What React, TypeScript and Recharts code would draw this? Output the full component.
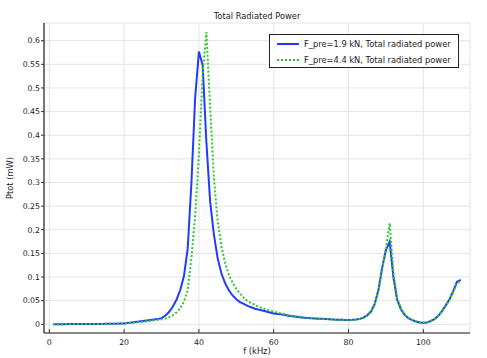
import React from 'react'
import { LineChart, Line, XAxis, YAxis, CartesianGrid } from 'recharts'

// frequency sweep, 1 kHz steps
const freqKHz = Array.from({ length: 110 }, (_, i) => i + 1)

// Ptot (mW), F_pre = 1.9 kN
const ptotPre19 = [
  0.0003, 0.0003, 0.0003, 0.0003, 0.0004, 0.0004, 0.0004, 0.0005, 0.0005, 0.0006,
  0.0006, 0.0007, 0.0008, 0.0009, 0.001, 0.0011, 0.0012, 0.0014, 0.0016, 0.0019,
  0.003, 0.004, 0.005, 0.006, 0.007, 0.008, 0.009, 0.01, 0.011, 0.013,
  0.018, 0.026, 0.037, 0.052, 0.072, 0.102, 0.16, 0.3, 0.48, 0.577,
  0.548, 0.385, 0.26, 0.19, 0.14, 0.108, 0.087, 0.072, 0.061, 0.053,
  0.047, 0.043, 0.039, 0.036, 0.033, 0.031, 0.029, 0.027, 0.025, 0.023,
  0.022, 0.021, 0.0195, 0.018, 0.017, 0.016, 0.015, 0.014, 0.0135, 0.013,
  0.0125, 0.012, 0.0115, 0.011, 0.0105, 0.01, 0.0097, 0.0095, 0.0093, 0.0092,
  0.0095, 0.01, 0.0115, 0.014, 0.019, 0.027, 0.043, 0.073, 0.12, 0.157,
  0.175, 0.1, 0.052, 0.032, 0.02, 0.013, 0.009, 0.006, 0.004, 0.0035,
  0.004, 0.007, 0.011, 0.018, 0.028, 0.04, 0.053, 0.07, 0.09, 0.094,
]

// Ptot (mW), F_pre = 4.4 kN
const ptotPre44 = [
  0.0003, 0.0003, 0.0003, 0.0003, 0.0003, 0.0004, 0.0004, 0.0004, 0.0005, 0.0005,
  0.0006, 0.0006, 0.0007, 0.0008, 0.0009, 0.001, 0.0011, 0.0012, 0.0014, 0.0017,
  0.0025, 0.003, 0.0038, 0.0045, 0.0055, 0.0065, 0.0075, 0.0085, 0.0095, 0.0105,
  0.012, 0.015, 0.019, 0.025, 0.034, 0.048, 0.072, 0.14, 0.23, 0.36,
  0.53, 0.618, 0.46, 0.31, 0.22, 0.165, 0.13, 0.105, 0.088, 0.075,
  0.065, 0.056, 0.049, 0.045, 0.041, 0.037, 0.034, 0.031, 0.029, 0.027,
  0.025, 0.023, 0.021, 0.0195, 0.018, 0.017, 0.016, 0.015, 0.014, 0.0135,
  0.013, 0.012, 0.0115, 0.011, 0.0105, 0.01, 0.0097, 0.0095, 0.0093, 0.0092,
  0.0093, 0.0097, 0.011, 0.013, 0.018, 0.026, 0.041, 0.07, 0.118, 0.16,
  0.214, 0.11, 0.056, 0.034, 0.021, 0.014, 0.0095, 0.0065, 0.0045, 0.0038,
  0.0042, 0.0068, 0.011, 0.0175, 0.027, 0.039, 0.052, 0.068, 0.087, 0.093,
]

const xTicks = [0, 20, 40, 60, 80, 100]
const yTicks = [0, 0.05, 0.1, 0.15, 0.2, 0.25, 0.3, 0.35, 0.4, 0.45, 0.5, 0.55, 0.6]
const seriesNames = ['F_pre=1.9 kN, Total radiated power', 'F_pre=4.4 kN, Total radiated power']

const data = freqKHz.map((f, i) => ({ f, p19: ptotPre19[i], p44: ptotPre44[i] }))

const FONT = 'DejaVu Sans'
const BLUE = '#1f3cff'
const GREEN = '#2ec82e'
const xDomain = [-1.42, 112.48]
const yDomain = [-0.0184, 0.6374]

const BottomTick = (props: any) => {
  const { x, y, payload } = props
  return (
    <g>
      <line x1={x} x2={x} y1={y} y2={y - 4} stroke="#333" />
      <text x={x} y={y + 12} textAnchor="middle" fontSize={7.8} fontFamily={FONT} fill="#222">
        {payload.value}
      </text>
    </g>
  )
}

const TopTick = (props: any) => {
  const { x, y } = props
  return <line x1={x} x2={x} y1={y} y2={y + 4} stroke="#555" />
}

const RightTick = (props: any) => {
  const { x, y } = props
  return <line x1={x - 4} x2={x} y1={y} y2={y} stroke="#555" />
}

const YLabel = (props: any) => {
  const { viewBox } = props
  const cx = viewBox.x + 10
  const cy = viewBox.y + viewBox.height / 2
  return (
    <text x={cx} y={cy} transform={`rotate(-90 ${cx} ${cy})`} textAnchor="middle" dominantBaseline="central" fontSize={8.3} fontFamily={FONT} fill="#222">
      Ptot (mW)
    </text>
  )
}

const XLabel = (props: any) => {
  const { viewBox } = props
  return (
    <text x={viewBox.x + viewBox.width / 2} y={viewBox.y + 21} textAnchor="middle" fontSize={8.3} fontFamily={FONT} fill="#222">
      f (kHz)
    </text>
  )
}

const LegendBox = () => (
  <div
    style={{
      position: 'absolute',
      left: 269,
      top: 34,
      width: 188,
      height: 32,
      border: '1.5px solid #222',
      background: '#fff',
      fontFamily: FONT,
      fontSize: 8.3,
      color: '#222',
    }}
  >
    {seriesNames.map((name, i) => (
      <div key={name} style={{ position: 'absolute', left: 6, top: 3 + i * 16, height: 12, display: 'flex', alignItems: 'center', whiteSpace: 'nowrap' }}>
        <svg width={24} height={6} style={{ marginRight: 4 }}>
          <line
            x1={1}
            x2={23}
            y1={3}
            y2={3}
            stroke={i === 0 ? BLUE : GREEN}
            strokeWidth={2}
            strokeDasharray={i === 0 ? undefined : '2 2'}
          />
        </svg>
        {name}
      </div>
    ))}
  </div>
)

export default function App() {
  return (
    <div style={{ position: 'absolute', left: 0, top: 0, width: 487, height: 358, background: '#fff' }}>
      <LineChart width={487} height={358} data={data} margin={{ top: 23, right: 17, left: 0, bottom: 0 }}>
        <text x={257} y={19} textAnchor="middle" fontSize={8.3} fontFamily={FONT} fill="#222">
          Total Radiated Power
        </text>
        <CartesianGrid stroke="#e4e4e4" ticks={undefined} />
        <XAxis
          dataKey="f"
          type="number"
          domain={xDomain}
          allowDataOverflow
          ticks={xTicks}
          height={25}
          tickSize={0}
          tickMargin={0}
          tickLine={false}
          tick={<BottomTick />}
          axisLine={{ stroke: '#222', strokeWidth: 1.2 }}
          label={<XLabel />}
        />
        <XAxis
          xAxisId="top"
          orientation="top"
          type="number"
          domain={xDomain}
          allowDataOverflow
          ticks={xTicks}
          height={0}
          tickSize={0}
          tickMargin={0}
          tickLine={false}
          tick={<TopTick />}
          axisLine={{ stroke: '#666', strokeWidth: 1.5 }}
        />
        <YAxis
          type="number"
          domain={yDomain}
          allowDataOverflow
          ticks={yTicks}
          width={44}
          tickSize={3}
          tickMargin={1}
          tickLine={{ stroke: '#333' }}
          tick={{ fontSize: 7.8, fontFamily: FONT, fill: '#222' }}
          tickFormatter={(v: number) => String(Math.round(v * 100) / 100)}
          axisLine={{ stroke: '#222', strokeWidth: 1.2 }}
          label={<YLabel />}
        />
        <YAxis
          yAxisId="right"
          orientation="right"
          type="number"
          domain={yDomain}
          allowDataOverflow
          ticks={yTicks}
          width={0}
          tickSize={0}
          tickMargin={0}
          tickLine={false}
          tick={<RightTick />}
          axisLine={{ stroke: '#666', strokeWidth: 1.5 }}
        />
        <Line type="linear" dataKey="p19" stroke={BLUE} strokeWidth={2} dot={false} isAnimationActive={false} />
        <Line type="linear" dataKey="p44" stroke={GREEN} strokeWidth={2} strokeDasharray="2 2" dot={false} isAnimationActive={false} />
      </LineChart>
      <LegendBox />
    </div>
  )
}
